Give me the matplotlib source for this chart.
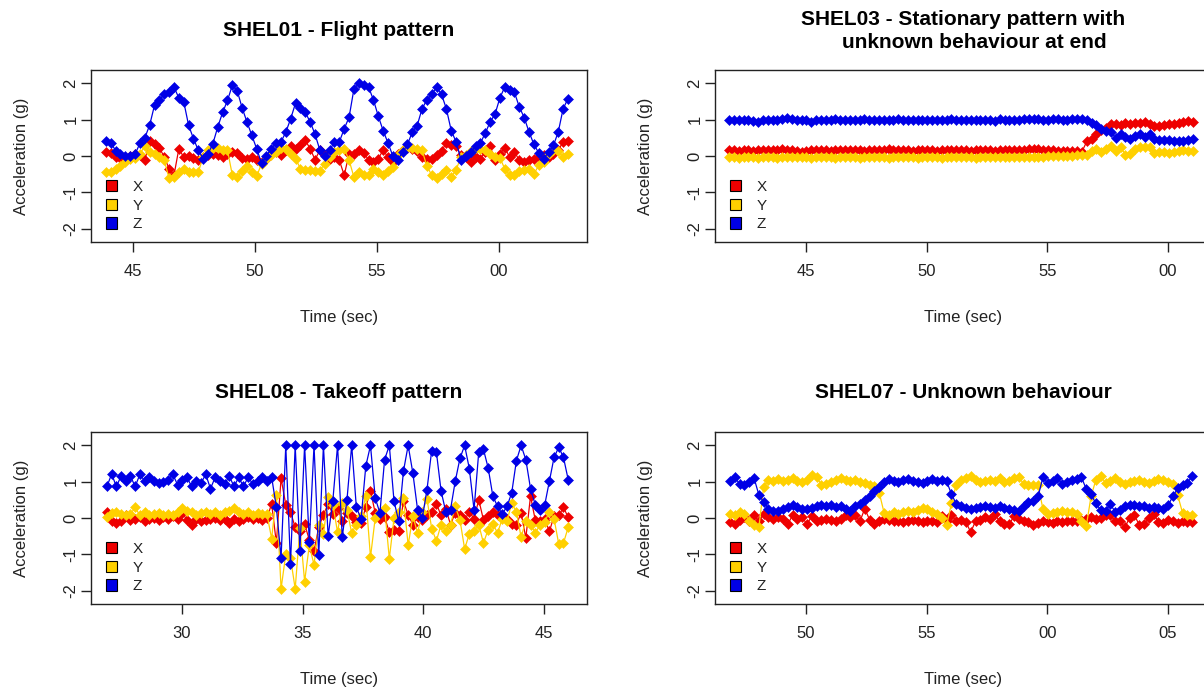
import numpy as np
import matplotlib.pyplot as plt
from matplotlib.patches import Patch
from matplotlib.ticker import FuncFormatter

plt.rcParams['font.family'] = ['Liberation Sans', 'DejaVu Sans']

RED = '#EE0000'
YEL = '#FFD000'
BLU = '#0000E6'

# -----------------------------------
# SHEL01 - flight (time 43.9 .. 62.8 s)
# -----------------------------------
A_time = (43.89, 62.83)
A_X = [0.11, 0.08, -0.03, -0.05, -0.03, 0.0, 0.06, 0.02, -0.12, 0.41,
       0.32, 0.23, -0.03, -0.35, -0.53, 0.2, -0.03, 0.0, -0.05, -0.12,
       -0.03, 0.02, 0.06, 0.02, -0.03, 0.06, 0.11, 0.08, -0.05, -0.07,
       -0.03, -0.12, -0.17, -0.07, 0.05, 0.11, 0.02, 0.17, 0.27, 0.2,
       0.29, 0.43, 0.2, -0.1, 0.16, 0.02, -0.07, -0.03, -0.12, -0.53,
       0.06, 0.05, 0.17, 0.08, -0.1, -0.17, -0.07, 0.16, -0.03, -0.17,
       0.06, 0.16, 0.23, 0.2, 0.14, -0.03, -0.07, -0.07, 0.02, 0.14,
       0.36, 0.3, 0.27, 0.02, -0.03, -0.17, -0.03, -0.07, 0.11, 0.27,
       -0.12, 0.06, 0.23, -0.03, 0.11, -0.12, -0.17, -0.1, -0.07, -0.03,
       0.02, -0.03, 0.06, 0.16, 0.39, 0.41]
A_Y = [-0.44, -0.44, -0.35, -0.28, -0.17, -0.07, -0.05, 0.06, 0.27, 0.11,
       0.05, -0.03, -0.12, -0.62, -0.58, -0.44, -0.35, -0.44, -0.44, -0.44,
       -0.03, 0.16, 0.23, 0.23, 0.17, 0.16, -0.53, -0.58, -0.4, -0.28,
       -0.44, -0.56, -0.21, -0.07, 0.02, 0.11, 0.23, 0.2, 0.06, -0.07,
       -0.35, -0.38, -0.38, -0.4, -0.4, -0.21, -0.03, 0.11, 0.16, 0.2,
       -0.12, -0.58, -0.45, -0.53, -0.53, -0.35, -0.44, -0.53, -0.4, -0.3,
       0.02, 0.16, 0.23, 0.23, 0.2, 0.16, -0.28, -0.53, -0.6, -0.49,
       -0.38, -0.58, -0.38, -0.03, 0.02, 0.14, 0.23, 0.2, 0.17, 0.06,
       -0.03, -0.05, -0.35, -0.53, -0.53, -0.4, -0.38, -0.35, -0.49, -0.26,
       -0.17, 0.06, 0.17, 0.14, -0.03, 0.06]
A_Z = [0.40, 0.37, 0.15, 0.05, 0.0, 0.0, 0.05, 0.35, 0.5, 0.85,
       1.4, 1.55, 1.7, 1.75, 1.9, 1.6, 1.5, 0.85, 0.48, 0.16,
       -0.07, 0.06, 0.34, 0.8, 1.2, 1.53, 1.95, 1.8, 1.33, 0.94,
       0.57, 0.2, -0.2, 0.0, 0.2, 0.36, 0.39, 0.66, 1.03, 1.46,
       1.33, 1.2, 0.94, 0.6, 0.16, 0.0, 0.16, 0.39, 0.39, 0.75,
       1.07, 1.85, 2.0, 1.95, 1.9, 1.55, 1.1, 0.7, 0.36, 0.0,
       -0.1, 0.1, 0.32, 0.66, 0.84, 1.3, 1.55, 1.7, 1.9, 1.7,
       1.3, 0.7, 0.39, -0.1, 0.0, 0.1, 0.27, 0.36, 0.63, 0.94,
       1.15, 1.6, 1.9, 1.82, 1.75, 1.35, 1.06, 0.66, 0.32, 0.08,
       -0.07, 0.1, 0.29, 0.66, 1.3, 1.58]

# -----------------------------------
# SHEL03 - stationary (time 41.8 .. 61.0 s)
# -----------------------------------
B_time = (41.81, 61.04)
B_X = [0.16, 0.16, 0.15, 0.16, 0.16, 0.15, 0.16, 0.17, 0.16, 0.16,
       0.17, 0.20, 0.17, 0.16, 0.14, 0.12, 0.15, 0.16, 0.16, 0.16,
       0.16, 0.15, 0.16, 0.16, 0.16, 0.17, 0.16, 0.16, 0.15, 0.16,
       0.16, 0.16, 0.17, 0.20, 0.17, 0.16, 0.16, 0.16, 0.15, 0.16,
       0.16, 0.16, 0.16, 0.15, 0.16, 0.16, 0.16, 0.16, 0.16, 0.16,
       0.15, 0.16, 0.16, 0.16, 0.16, 0.15, 0.16, 0.16, 0.16, 0.16,
       0.16, 0.17, 0.18, 0.19, 0.18, 0.17, 0.16, 0.16, 0.15, 0.15,
       0.14, 0.13, 0.13, 0.12,
       0.40, 0.46, 0.62, 0.72, 0.78, 0.88, 0.88, 0.85, 0.90, 0.88,
       0.90, 0.91, 0.94, 0.88, 0.82, 0.82, 0.86, 0.87, 0.89, 0.90,
       0.93, 0.96, 0.93]
B_Y = [-0.04, -0.03, -0.05, -0.04, -0.04, -0.03, -0.05, -0.04, -0.03, -0.04,
       -0.05, -0.04, -0.03, -0.04, -0.04, -0.03, -0.04, -0.05, -0.04, -0.03,
       -0.04, -0.04, -0.05, -0.04, -0.03, -0.04, -0.04, -0.05, -0.04, -0.04,
       -0.03, -0.04, -0.04, -0.05, -0.04, -0.03, -0.04, -0.04, -0.04, -0.05,
       -0.04, -0.03, -0.04, -0.04, -0.05, -0.04, -0.04, -0.03, -0.04, -0.04,
       -0.04, -0.05, -0.04, -0.03, -0.04, -0.04, -0.04, -0.03, -0.04, -0.04,
       -0.03, -0.03, -0.02, -0.03, -0.02, -0.02, -0.01, -0.01, 0.0, 0.0,
       0.01, 0.01, 0.02, 0.02,
       0.02, 0.14, 0.20, 0.12, 0.18, 0.28, 0.14, 0.24, 0.04, 0.06,
       0.20, 0.26, 0.24, 0.26, 0.08, 0.10, 0.12, 0.08, 0.12, 0.14,
       0.16, 0.14, 0.14]
B_Z = [1.00, 1.00, 0.99, 1.00, 0.98, 0.97, 0.95, 0.98, 0.99, 1.00,
       1.00, 1.01, 1.04, 1.01, 1.00, 0.99, 0.98, 0.95, 0.99, 1.00,
       1.00, 1.00, 1.01, 1.00, 0.99, 1.00, 1.00, 1.00, 1.01, 1.00,
       1.00, 0.99, 1.00, 1.00, 1.00, 1.01, 1.00, 1.00, 1.00, 1.00,
       1.00, 1.00, 0.99, 1.00, 1.00, 1.00, 1.01, 1.00, 1.00, 1.00,
       1.00, 1.00, 1.00, 0.99, 0.98, 0.96, 1.03, 1.00, 1.00, 1.00,
       1.00, 1.01, 1.02, 1.03, 1.01, 1.00, 1.00, 1.01, 1.03, 1.00,
       1.00, 1.02, 1.03, 1.02,
       0.98, 0.92, 0.85, 0.75, 0.68, 0.66, 0.50, 0.60, 0.52, 0.48,
       0.55, 0.60, 0.52, 0.62, 0.46, 0.44, 0.43, 0.43, 0.40, 0.42,
       0.41, 0.45, 0.46]

# -----------------------------------
# SHEL08 - takeoff (time 26.9 .. 46.0 s)
# -----------------------------------
C_time = (26.89, 46.0)
C_X = [0.17, -0.09, -0.14, -0.07, 0.07, -0.05, -0.02, 0.02, -0.09, -0.02,
       0.0, -0.05, 0.02, -0.02, 0.05, -0.02, 0.14, -0.05, -0.2, -0.02,
       -0.09, -0.05, -0.02, 0.0, -0.05, -0.02, -0.14, -0.02, -0.09, -0.02,
       0.02, -0.02, 0.0, -0.05, 0.0, 0.39,
       -0.69, 1.09, 0.37, 0.17, -0.26, -0.37, -0.17, -0.6, -0.9, -0.26,
       0.09, 0.39, 0.11, 0.28,
       -0.09, 0.14, 0.05, -0.11, -0.14, 0.3, 0.75, 0.14, -0.02, 0.02,
       -0.39, -0.32, -0.37, 0.46, 0.09, -0.18, 0.02, -0.05, 0.09, 0.17,
       0.39, 0.07, 0.26, -0.18, 0.14, 0.07, -0.05, 0.17, -0.02, 0.5,
       -0.05, 0.05, 0.17, 0.07, 0.09, -0.02, -0.17, -0.18, 0.14, -0.55,
       0.6, -0.05, -0.09, -0.02, -0.37, 0.05, 0.07, 0.29, 0.02]
C_Y = [0.02, 0.14, 0.17, 0.11, 0.07, 0.11, 0.29, 0.07, 0.17, 0.07,
       0.11, 0.14, 0.07, 0.11, 0.09, 0.17, 0.28, 0.18, 0.17, 0.09,
       0.14, 0.17, 0.11, 0.17, 0.09, 0.17, 0.2, 0.28, 0.17, 0.11,
       0.17, 0.09, 0.14, 0.11, 0.1, -0.57,
       0.64, -1.95, -1.0, -1.1, -1.95, -0.28, -1.75, -0.75, -1.29, -0.18,
       -0.44, 0.57, 0.37, -0.39,
       0.4, 0.23, -0.41, -0.18, 0.05, 0.6, -1.08, 0.0, 0.17, 0.28,
       -1.12, 0.0, 0.17, 0.55, -0.75, 0.05, -0.41, 0.17, 0.53, -0.29,
       -0.63, -0.18, -0.35, -0.18, 0.32, -0.05, -0.85, -0.44, -0.35, -0.18,
       -0.69, -0.32, -0.17, -0.41, -0.02, -0.09, 0.41, 0.17, -0.53, -0.07,
       -0.18, -0.41, -0.2, -0.11, 0.17, -0.02, -0.72, -0.69, -0.26]
C_Z = [0.87, 1.21, 0.87, 1.15, 1.03, 1.15, 0.87, 1.2, 1.03, 1.12,
       1.01, 0.97, 1.0, 1.06, 1.2, 0.92, 1.06, 1.12, 0.87, 1.03,
       0.97, 1.2, 0.81, 1.12, 1.01, 0.94, 1.15, 0.87, 1.12, 0.87,
       1.12, 0.94, 1.01, 1.12, 1.01, 1.12,
       0.3, -1.1, 2.0, -1.27, 2.0, -0.9, 2.0, -0.66, 2.0, -1.03,
       2.0, -0.5, 0.48, 2.0,
       -0.53, 0.5, 2.0, 0.29, -0.02, 1.43, 2.0, 0.55, 0.14, 1.61,
       2.0, 0.46, -0.09, 1.29, 2.0, 1.24, 0.23, 0.0, 0.78, 1.86,
       1.82, 0.74, 0.17, 0.23, 1.01, 1.64, 2.0, 1.36, 0.23, 1.82,
       1.89, 1.38, 0.6, 0.32, 0.11, 0.32, 0.69, 1.58, 2.0, 1.61,
       0.81, 0.37, 0.23, 0.35, 1.01, 1.67, 1.95, 1.67, 1.06]

# -----------------------------------
# SHEL07 - unknown (time 46.9 .. 66.0 s)
# -----------------------------------
D_time = (46.85, 66.0)
D_X = [-0.11, -0.17, -0.05, 0.02, -0.07, 0.07, -0.09, 0.11, 0.02, -0.02,
       0.02, -0.02, -0.17, 0.07, -0.02, 0.02, -0.17, 0.05, -0.09, -0.05,
       -0.02, -0.05, -0.09, -0.02, 0.09, 0.02, 0.07, -0.09, 0.26, -0.05,
       -0.17, -0.07, -0.02, -0.05, -0.09, -0.07, -0.11, -0.09, -0.05, -0.07,
       -0.11, -0.09, -0.07, -0.11, 0.05, -0.09,
       0.07, -0.07, -0.05, -0.11, -0.39, -0.09, -0.05, 0.02, -0.02, 0.11,
       -0.09, -0.17, -0.17, 0.05, -0.02, -0.09, -0.11, -0.18, -0.14, -0.09,
       -0.11, -0.14, -0.09, -0.11, -0.07, -0.09, -0.07, -0.05, -0.02, 0.02,
       -0.02, 0.0, 0.07, 0.07, -0.07, -0.09, -0.26, 0.0, 0.07, -0.18,
       -0.17, 0.0, 0.11, -0.11, -0.14, -0.05, -0.07, -0.14, -0.09, -0.11,
       -0.11]
D_Y = [0.11, 0.07, 0.17, 0.11, -0.07, -0.18, -0.26, 0.85, 1.06, 1.03,
       1.08, 1.03, 1.06, 1.1, 1.01, 0.99, 1.06, 1.18, 1.12, 0.92,
       0.94, 0.99, 1.06, 1.1, 1.06, 1.01, 1.06, 1.0, 0.97, 0.92,
       0.87, 0.7, 0.15, 0.07, 0.17, 0.11, 0.17, 0.2, 0.17, 0.23,
       0.28, 0.25, 0.17, 0.11, 0.0, -0.2,
       0.4, 0.92, 1.06, 1.09, 1.15, 1.06, 0.99, 1.01, 1.06, 1.03,
       1.09, 0.99, 1.03, 1.1, 1.12, 0.94, 0.9, 0.9, 0.9, 0.25,
       0.11, 0.14, 0.17, 0.18, 0.17, 0.17, 0.11, -0.07, -0.23, 0.6,
       1.05, 1.15, 0.97, 1.03, 1.1, 1.0, 0.95, 0.99, 1.03, 1.06,
       1.0, 0.97, 1.03, 1.08, 1.06, 0.99, 0.95, 0.63, 0.14, 0.08,
       0.07]
D_Z = [1.03, 1.12, 0.94, 0.92, 1.0, 1.1, 0.64, 0.44, 0.26, 0.2,
       0.2, 0.25, 0.3, 0.36, 0.3, 0.24, 0.26, 0.28, 0.32, 0.36,
       0.32, 0.37, 0.3, 0.32, 0.24, 0.18, 0.32, 0.39, 0.5, 0.62,
       0.74, 0.85, 1.0, 1.08, 1.03, 1.0, 1.06, 1.08, 1.03, 1.0,
       0.97, 1.03, 1.08, 1.03, 1.06, 1.01,
       0.66, 0.39, 0.32, 0.28, 0.26, 0.28, 0.29, 0.32, 0.3, 0.28,
       0.32, 0.28, 0.26, 0.22, 0.2, 0.32, 0.44, 0.48, 0.6, 1.12,
       0.96, 1.03, 1.1, 0.94, 1.0, 1.04, 1.08, 1.12, 0.8, 0.65,
       0.4, 0.22, 0.2, 0.38, 0.17, 0.23, 0.32, 0.37, 0.35, 0.32,
       0.32, 0.28, 0.29, 0.28, 0.26, 0.35, 0.6, 0.82, 0.9, 0.97,
       1.15]

W = 496 / 1204
H = 172 / 690
fig = plt.figure(figsize=(12.04, 6.9), dpi=100)


def sec_label(v, pos):
    return "%02d" % (int(round(v)) % 60)


def panel(rect, span, x, y, z, title, xlim, ticks):
    ax = fig.add_axes(rect)
    for vals, col in ((x, RED), (y, YEL), (z, BLU)):
        t = np.linspace(span[0], span[1], len(vals))
        ax.plot(t, vals, color=col, lw=0.9, marker='D', ms=4.6,
                mec=col, mew=0.4)
    ax.set_xlim(xlim)
    ax.set_ylim(-2.37, 2.37)
    ax.set_xticks(ticks)
    ax.xaxis.set_major_formatter(FuncFormatter(sec_label))
    ax.set_yticks([-2, -1, 0, 1, 2])
    ax.set_yticklabels(['-2', '-1', '0', '1', '2'], rotation=90, va='center')
    ax.tick_params(direction='out', length=7, width=1, labelsize=12,
                   colors='#222222')
    ax.tick_params(axis='x', pad=9)
    ax.tick_params(axis='y', pad=2)
    for s in ax.spines.values():
        s.set_linewidth(1)
        s.set_color('#222222')
    ax.set_xlabel('Time (sec)', fontsize=12, labelpad=22, color='#222222')
    ax.set_ylabel('Acceleration (g)', fontsize=12, labelpad=25,
                  color='#222222')
    ax.text(0.5, 1 + 39 / 172, title, transform=ax.transAxes, ha='center',
            va='center', fontsize=15, fontweight='bold', linespacing=1.3)
    handles = [Patch(facecolor=c, edgecolor='black', lw=0.8)
               for c in (RED, YEL, BLU)]
    ax.legend(handles, ['X', 'Y', 'Z'], loc='lower left',
              bbox_to_anchor=(0.008, 0.0), frameon=False, fontsize=11,
              handlelength=0.75, handleheight=0.75, handletextpad=1.0,
              labelspacing=0.3, borderpad=0.2, labelcolor='#222222')
    return ax


panel([91 / 1204, 1 - 242 / 690, W, H], A_time, A_X, A_Y, A_Z,
      'SHEL01 - Flight pattern', (43.28, 63.61), [45, 50, 55, 60])
panel([715 / 1204, 1 - 242 / 690, W, H], B_time, B_X, B_Y, B_Z,
      'SHEL03 - Stationary pattern with\n    unknown behaviour at end',
      (41.23, 61.78), [45, 50, 55, 60])
panel([91 / 1204, 1 - 604 / 690, W, H], C_time, C_X, C_Y, C_Z,
      'SHEL08 - Takeoff pattern', (26.23, 46.78), [30, 35, 40, 45])
panel([715 / 1204, 1 - 604 / 690, W, H], D_time, D_X, D_Y, D_Z,
      'SHEL07 - Unknown behaviour', (46.23, 66.78), [50, 55, 60, 65])

plt.savefig('out.png', dpi=100)
